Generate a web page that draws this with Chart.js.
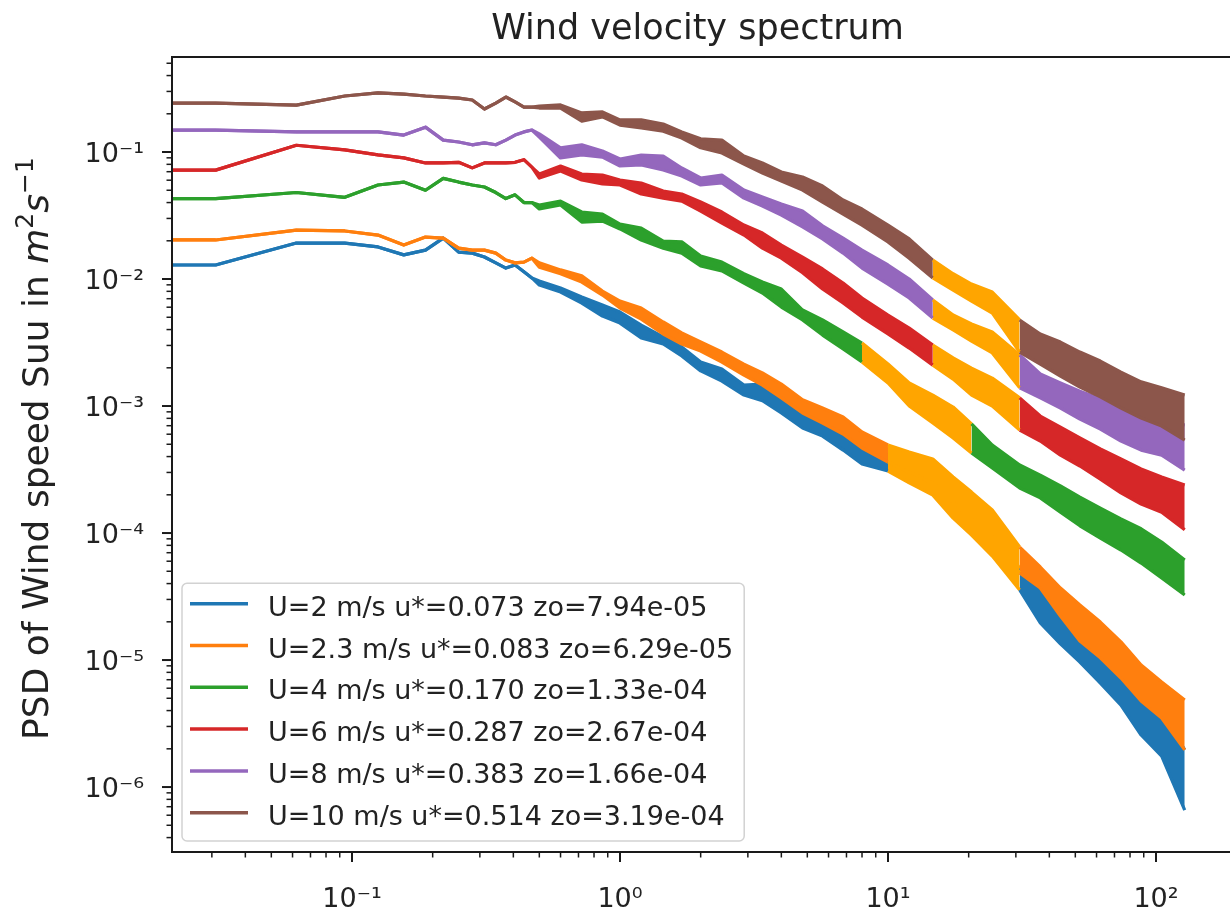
<!DOCTYPE html>
<html>
<head>
<meta charset="utf-8">
<title>Wind velocity spectrum</title>
<script src="https://cdn.jsdelivr.net/npm/chart.js@4.4.1/dist/chart.umd.min.js"></script>
<style>
  html, body { margin: 0; padding: 0; background: #fff; overflow: hidden; }
  #wrap { position: relative; width: 1240px; height: 912px; }
</style>
</head>
<body>
<div id="wrap"><canvas id="spectrum" width="1240" height="912"></canvas></div>
<script>
const freqLow = [0.02, 0.031, 0.062, 0.094, 0.125, 0.156, 0.188, 0.219, 0.25, 0.281, 0.312, 0.344, 0.375, 0.406, 0.438, 0.469];
const freqHigh = [0.5, 0.6, 0.72, 0.86, 1.0, 1.2, 1.45, 1.7, 2.0, 2.4, 2.9, 3.4, 4.0, 4.8, 5.7, 6.8, 8.0, 10, 12, 14.7, 17.5, 20.5, 24.5, 31, 37, 44, 52, 62, 74, 88, 105, 128];

// Suu (m^2 s^-1): schmale Linie bei tiefen Frequenzen, danach Ober-/Unterkante des verrauschten Bandes
const u2Low = [0.0129, 0.0129, 0.0192, 0.0192, 0.0179, 0.0155, 0.0169, 0.021, 0.0163, 0.016, 0.0149, 0.0134, 0.0122, 0.0129, 0.0114, 0.0102];
const u2Top = [0.00964, 0.00849, 0.00722, 0.00624, 0.0055, 0.00434, 0.0035, 0.00292, 0.00222, 0.00196, 0.00146, 0.00149, 0.00122, 0.000982, 0.00079, 0.000624, 0.000493, 0.000411, 0.000356, 0.000308, 0.000207, 0.000157, 0.00011, 5.3e-5, 3.69e-5, 2.71e-5, 2.07e-5, 1.39e-5, 9.3e-6, 5.6e-6, 3.97e-6, 1.96e-6];
const u2Bot = [0.00897, 0.0079, 0.00647, 0.00511, 0.0045, 0.00343, 0.00308, 0.00248, 0.00189, 0.00157, 0.00122, 0.0011, 0.000881, 0.000671, 0.00058, 0.00045, 0.00035, 0.000308, 0.000248, 0.000199, 0.000131, 9.64e-5, 6.59e-5, 3.56e-5, 1.96e-5, 1.34e-5, 9.64e-6, 6.59e-6, 4.42e-6, 2.57e-6, 1.75e-6, 6.59e-7];

const u23Low = [0.0203, 0.0203, 0.0243, 0.0239, 0.0222, 0.0185, 0.0214, 0.021, 0.0175, 0.0169, 0.0169, 0.016, 0.0141, 0.0134, 0.0136, 0.0146];
const u23Top = [0.0134, 0.0118, 0.0106, 0.00804, 0.00671, 0.00591, 0.00459, 0.00376, 0.00319, 0.00266, 0.00214, 0.00182, 0.00149, 0.00112, 0.000964, 0.000819, 0.000624, 0.000493, 0.000434, 0.000383, 0.000276, 0.00021, 0.000152, 7.76e-5, 5.4e-5, 3.69e-5, 2.71e-5, 1.99e-5, 1.39e-5, 9.13e-6, 6.71e-6, 4.84e-6];
const u23Bot = [0.0124, 0.011, 0.00947, 0.00748, 0.00591, 0.00484, 0.00369, 0.00308, 0.00271, 0.00222, 0.00175, 0.00146, 0.00116, 0.000881, 0.000735, 0.000602, 0.000467, 0.000362, 0.000302, 0.000248, 0.000175, 0.000131, 9.3e-5, 4.84e-5, 3.69e-5, 2.22e-5, 1.41e-5, 1.04e-5, 7.22e-6, 4.76e-6, 3.5e-6, 1.96e-6];

const u4Low = [0.043, 0.043, 0.048, 0.044, 0.055, 0.058, 0.050, 0.062, 0.058, 0.055, 0.053, 0.048, 0.043, 0.046, 0.040, 0.040];
const u4Top = [0.0383, 0.0411, 0.0337, 0.0325, 0.0271, 0.0252, 0.0199, 0.0196, 0.0152, 0.0136, 0.011, 0.00947, 0.00834, 0.0057, 0.00476, 0.00383, 0.00313, 0.00214, 0.00152, 0.00122, 0.000982, 0.000722, 0.000493, 0.000343, 0.000286, 0.000235, 0.000192, 0.000157, 0.000129, 0.000108, 8.49e-5, 6.13e-5];
const u4Bot = [0.0356, 0.0383, 0.0281, 0.0286, 0.0248, 0.0203, 0.0175, 0.016, 0.0127, 0.0116, 0.0093, 0.00776, 0.00602, 0.00476, 0.00362, 0.00281, 0.00222, 0.00152, 0.001, 0.000735, 0.00056, 0.000427, 0.000325, 0.000226, 0.000189, 0.000146, 0.000114, 9.13e-5, 7.35e-5, 5.8e-5, 4.42e-5, 3.25e-5];

const u6Low = [0.072, 0.072, 0.113, 0.104, 0.095, 0.090, 0.082, 0.082, 0.083, 0.075, 0.082, 0.082, 0.082, 0.083, 0.087, 0.076];
const u6Top = [0.0671, 0.0776, 0.0671, 0.0659, 0.0602, 0.057, 0.0493, 0.0467, 0.0404, 0.0337, 0.0266, 0.023, 0.0185, 0.0149, 0.012, 0.0093, 0.00709, 0.00521, 0.00411, 0.00302, 0.00239, 0.00199, 0.00166, 0.00116, 0.000834, 0.000683, 0.00056, 0.000459, 0.000383, 0.000319, 0.000276, 0.000239];
const u6Bot = [0.0624, 0.0709, 0.0602, 0.056, 0.055, 0.0467, 0.0434, 0.0411, 0.0343, 0.0276, 0.0222, 0.0175, 0.0146, 0.0112, 0.00834, 0.00647, 0.00502, 0.00369, 0.00286, 0.0021, 0.00163, 0.00122, 0.001, 0.000647, 0.00053, 0.000411, 0.000337, 0.000266, 0.000207, 0.000169, 0.000146, 0.000106];

const u8Low = [0.149, 0.149, 0.144, 0.144, 0.144, 0.136, 0.157, 0.124, 0.12, 0.114, 0.118, 0.114, 0.124, 0.136, 0.144, 0.149];
const u8Top = [0.139, 0.108, 0.114, 0.102, 0.0881, 0.0947, 0.093, 0.0748, 0.0624, 0.0659, 0.0502, 0.0442, 0.039, 0.0343, 0.0262, 0.021, 0.0169, 0.0129, 0.01, 0.00683, 0.00521, 0.00442, 0.00383, 0.00252, 0.00179, 0.00152, 0.00131, 0.00114, 0.000982, 0.000849, 0.000776, 0.000709];
const u8Bot = [0.131, 0.0897, 0.0947, 0.0913, 0.0776, 0.079, 0.0722, 0.0647, 0.055, 0.057, 0.0434, 0.0376, 0.0319, 0.0257, 0.0207, 0.016, 0.0122, 0.00913, 0.00709, 0.00493, 0.00397, 0.00325, 0.00262, 0.00139, 0.00116, 0.000964, 0.00079, 0.000659, 0.00053, 0.00045, 0.000411, 0.000313];

const u10Low = [0.243, 0.243, 0.234, 0.276, 0.292, 0.286, 0.276, 0.271, 0.266, 0.257, 0.218, 0.243, 0.271, 0.248, 0.226, 0.226];
const u10Top = [0.23, 0.235, 0.203, 0.207, 0.179, 0.179, 0.166, 0.144, 0.127, 0.124, 0.093, 0.0819, 0.0696, 0.0636, 0.054, 0.0419, 0.0356, 0.0266, 0.0207, 0.0141, 0.011, 0.00913, 0.0079, 0.00476, 0.00369, 0.00319, 0.00266, 0.00226, 0.00185, 0.00155, 0.00139, 0.00122];
const u10Bot = [0.222, 0.222, 0.175, 0.189, 0.163, 0.155, 0.146, 0.129, 0.108, 0.0982, 0.0804, 0.0683, 0.0591, 0.0502, 0.0404, 0.0325, 0.0266, 0.0196, 0.0146, 0.0102, 0.00819, 0.00671, 0.0054, 0.00266, 0.00214, 0.00172, 0.00141, 0.00118, 0.000964, 0.000804, 0.000696, 0.00054];

const seriesLabels = [
    'U=2 m/s u*=0.073 zo=7.94e-05',
    'U=2.3 m/s u*=0.083 zo=6.29e-05',
    'U=4 m/s u*=0.170 zo=1.33e-04',
    'U=6 m/s u*=0.287 zo=2.67e-04',
    'U=8 m/s u*=0.383 zo=1.66e-04',
    'U=10 m/s u*=0.514 zo=3.19e-04'
];
const seriesColors = ['#1f77b4', '#ff7f0e', '#2ca02c', '#d62728', '#9467bd', '#8c564b'];

// Frequenzbereich (Hz), in dem jede Kurve orange überzeichnet ist
const fitColor = '#ffa500';
const fitRanges = [[10, 31], [10, 31], [8, 20.5], [14.7, 31], [14.7, 31], [14.7, 31]];

// Achsenbeschriftung
const xTickValues = [0.1, 1, 10, 100];
const xTickLabels = ['10\u207B\u00B9', '10\u2070', '10\u00B9', '10\u00B2'];
const yTickValues = [1e-6, 1e-5, 1e-4, 1e-3, 1e-2, 1e-1];
const yTickLabels = ['10\u207B\u2076', '10\u207B\u2075', '10\u207B\u2074', '10\u207B\u00B3', '10\u207B\u00B2', '10\u207B\u00B9'];

const FONT = '"DejaVu Sans", "Liberation Sans", sans-serif';
const TEXT = '#222222';

const seriesData = [
    [u2Low, u2Top, u2Bot],
    [u23Low, u23Top, u23Bot],
    [u4Low, u4Top, u4Bot],
    [u6Low, u6Top, u6Bot],
    [u8Low, u8Top, u8Bot],
    [u10Low, u10Top, u10Bot]
];

function toPoints(low, high) {
    const freq = freqLow.concat(freqHigh);
    const vals = low.concat(high);
    return freq.map((f, k) => ({ x: f, y: vals[k] }));
}

const datasets = [];
seriesData.forEach(([low, top, bot], i) => {
    const [a, b] = fitRanges[i];
    const seg = c => (c.p0.parsed.x >= a && c.p1.parsed.x <= b) ? fitColor : undefined;
    const common = {
        borderColor: seriesColors[i],
        backgroundColor: seriesColors[i],
        borderWidth: 3.2,
        borderJoinStyle: 'round',
        pointRadius: 0,
        tension: 0,
        segment: { borderColor: seg, backgroundColor: seg }
    };
    datasets.push({ ...common, label: seriesLabels[i], inLegend: true, order: 20 - 2 * i, fill: '+1', data: toPoints(low, top) });
    datasets.push({ ...common, label: '', order: 19 - 2 * i, fill: false, data: toPoints(low, bot) });
});

// Haupt- und Nebenstriche einer Log-Achse
function logTicks(min, max) {
    const ticks = [];
    for (let e = Math.floor(Math.log10(min)); e <= Math.ceil(Math.log10(max)); e++) {
        for (let m = 1; m <= 9; m++) {
            const v = m * Math.pow(10, e);
            if (v >= min && v <= max) ticks.push({ value: v, major: m === 1 });
        }
    }
    return ticks;
}

function tickLabel(values, labels) {
    return (value) => {
        const k = values.findIndex(v => Math.abs(Math.log10(v) - Math.log10(value)) < 1e-6);
        return k >= 0 ? labels[k] : '';
    };
}

function drawLegend(chart) {
    const { ctx, chartArea: a } = chart;
    const items = chart.data.datasets.filter(d => d.inLegend);
    ctx.font = '27px ' + FONT;
    const maxW = Math.max(...items.map(d => ctx.measureText(d.label).width));
    const rowH = 41.8;
    const x0 = a.left + 10;
    const w = 86 + maxW + 11;
    const h = items.length * rowH + 7;
    const y0 = a.bottom - 11 - h;

    ctx.beginPath();
    ctx.roundRect(x0, y0, w, h, 5);
    ctx.fillStyle = 'rgba(255,255,255,0.8)';
    ctx.fill();
    ctx.lineWidth = 1.5;
    ctx.strokeStyle = '#d2d2d2';
    ctx.stroke();

    items.forEach((d, i) => {
        const cy = y0 + 20.5 + i * rowH;
        ctx.beginPath();
        ctx.moveTo(x0 + 8, cy);
        ctx.lineTo(x0 + 66, cy);
        ctx.lineWidth = 3.5;
        ctx.strokeStyle = d.borderColor;
        ctx.stroke();
        ctx.fillStyle = TEXT;
        ctx.textAlign = 'left';
        ctx.textBaseline = 'alphabetic';
        ctx.fillText(d.label, x0 + 86, cy + 12);
    });
}

function drawYLabel(chart) {
    const { ctx, chartArea: a } = chart;
    const parts = [
        { t: 'PSD of Wind speed Suu in ', f: '36px ' + FONT, dy: 0 },
        { t: 'm', f: 'italic 36px ' + FONT, dy: 0 },
        { t: '2', f: '25px ' + FONT, dy: -15 },
        { t: 's', f: 'italic 36px ' + FONT, dy: 0 },
        { t: '\u22121', f: '25px ' + FONT, dy: -15 }
    ];
    let total = 0;
    parts.forEach(p => { ctx.font = p.f; p.w = ctx.measureText(p.t).width; total += p.w; });
    ctx.save();
    ctx.translate(48, (a.top + a.bottom) / 2 - 6);
    ctx.rotate(-Math.PI / 2);
    ctx.fillStyle = TEXT;
    ctx.textAlign = 'left';
    ctx.textBaseline = 'alphabetic';
    let x = -total / 2;
    parts.forEach(p => { ctx.font = p.f; ctx.fillText(p.t, x, p.dy); x += p.w; });
    ctx.restore();
}

const decorPlugin = {
    id: 'decor',
    afterDraw(chart) {
        const { ctx, chartArea: a, scales: { x, y } } = chart;
        ctx.save();
        // Rahmen
        ctx.strokeStyle = '#1a1a1a';
        ctx.lineWidth = 2;
        ctx.strokeRect(a.left, a.top, a.right - a.left, a.bottom - a.top);
        // Striche
        x.ticks.forEach(t => {
            const px = x.getPixelForValue(t.value);
            ctx.lineWidth = t.major ? 2 : 1.5;
            ctx.beginPath();
            ctx.moveTo(px, a.bottom);
            ctx.lineTo(px, a.bottom + (t.major ? 10 : 5.5));
            ctx.stroke();
        });
        y.ticks.forEach(t => {
            const py = y.getPixelForValue(t.value);
            ctx.lineWidth = t.major ? 2 : 1.5;
            ctx.beginPath();
            ctx.moveTo(a.left, py);
            ctx.lineTo(a.left - (t.major ? 10 : 5.5), py);
            ctx.stroke();
        });
        // Titel
        ctx.fillStyle = TEXT;
        ctx.font = '35px ' + FONT;
        ctx.textAlign = 'center';
        ctx.textBaseline = 'alphabetic';
        ctx.fillText('Wind velocity spectrum', (a.left + a.right) / 2 - 5, a.top - 18);
        drawYLabel(chart);
        drawLegend(chart);
        ctx.restore();
    }
};

Chart.defaults.font.family = FONT;

new Chart(document.getElementById('spectrum'), {
    type: 'line',
    data: { datasets },
    options: {
        responsive: false,
        animation: false,
        events: [],
        layout: { padding: { left: 0, top: 57, right: 7, bottom: 0 } },
        plugins: {
            legend: { display: false },
            tooltip: { enabled: false },
            title: { display: false }
        },
        scales: {
            x: {
                type: 'logarithmic',
                min: 0.0213,
                max: 193.8,
                bounds: 'data',
                grid: { display: false, drawTicks: false },
                border: { display: false },
                afterBuildTicks: s => { s.ticks = logTicks(s.min, s.max); },
                afterFit: s => { s.height = 60; },
                ticks: {
                    autoSkip: false,
                    maxRotation: 0,
                    minRotation: 0,
                    padding: 32,
                    color: TEXT,
                    font: { size: 27 },
                    callback: tickLabel(xTickValues, xTickLabels)
                }
            },
            y: {
                type: 'logarithmic',
                min: 3.08e-7,
                max: 0.56,
                bounds: 'data',
                grid: { display: false, drawTicks: false },
                border: { display: false },
                afterBuildTicks: s => { s.ticks = logTicks(s.min, s.max); },
                afterFit: s => { s.width = 172; },
                ticks: {
                    autoSkip: false,
                    padding: 28,
                    labelOffset: 3,
                    color: TEXT,
                    font: { size: 27 },
                    callback: tickLabel(yTickValues, yTickLabels)
                }
            }
        }
    },
    plugins: [decorPlugin]
});
</script>
</body>
</html>
